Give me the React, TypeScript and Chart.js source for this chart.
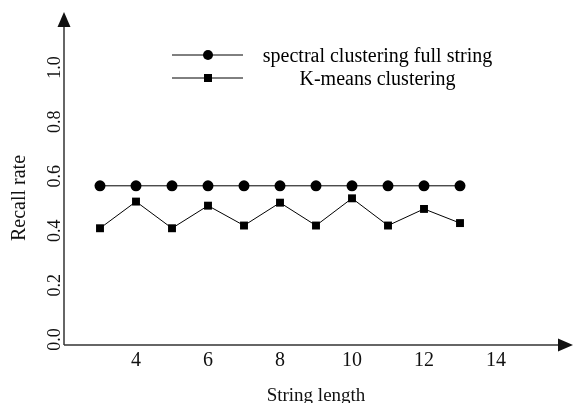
import React, { useEffect, useRef } from "react";
import { Chart, registerables } from "chart.js";

Chart.register(...registerables);

const xValues = [3, 4, 5, 6, 7, 8, 9, 10, 11, 12, 13];
const spectralValues = [0.565, 0.565, 0.565, 0.565, 0.565, 0.565, 0.565, 0.565, 0.565, 0.565, 0.565];
const kmeansValues = [0.409, 0.507, 0.409, 0.492, 0.419, 0.503, 0.419, 0.519, 0.419, 0.48, 0.428];
const xTicks = [4, 6, 8, 10, 12, 14];
const yTicks = [0, 0.2, 0.4, 0.6, 0.8, 1.0];
const seriesNames = ["spectral clustering full string", "K-means clustering"];
const xTitle = "String length";
const yTitle = "Recall rate";

const SERIF = "'Liberation Serif', 'Times New Roman', serif";

const decorPlugin = {
  id: "decor",
  beforeDatasetsDraw(chart: any) {
    const { ctx, chartArea } = chart;
    const left = chartArea.left;
    const bottom = chartArea.bottom;
    ctx.save();
    ctx.strokeStyle = "#333";
    ctx.fillStyle = "#111";
    ctx.lineWidth = 1.5;
    // x axis line + arrow
    ctx.beginPath();
    ctx.moveTo(left, bottom);
    ctx.lineTo(560, bottom);
    ctx.stroke();
    ctx.beginPath();
    ctx.moveTo(573, bottom);
    ctx.lineTo(558, bottom - 6.5);
    ctx.lineTo(558, bottom + 6.5);
    ctx.closePath();
    ctx.fill();
    // y axis line + arrow
    ctx.beginPath();
    ctx.moveTo(left, bottom);
    ctx.lineTo(left, 25);
    ctx.stroke();
    ctx.beginPath();
    ctx.moveTo(left, 12);
    ctx.lineTo(left - 6.5, 27);
    ctx.lineTo(left + 6.5, 27);
    ctx.closePath();
    ctx.fill();
    ctx.restore();
  },
  afterDraw(chart: any) {
    const { ctx } = chart;
    const yScale = chart.scales.y;
    ctx.save();
    // y tick labels (rotated)
    ctx.fillStyle = "#111";
    ctx.font = `18px ${SERIF}`;
    ctx.textAlign = "center";
    ctx.textBaseline = "alphabetic";
    yTicks.forEach((v) => {
      const py = yScale.getPixelForValue(v);
      ctx.save();
      ctx.translate(60, py);
      ctx.rotate(-Math.PI / 2);
      ctx.fillText(v.toFixed(1), 0, 0);
      ctx.restore();
    });
    // y title
    ctx.font = `20px ${SERIF}`;
    ctx.save();
    ctx.translate(25, 198);
    ctx.rotate(-Math.PI / 2);
    ctx.fillText(yTitle, 0, 0);
    ctx.restore();

    // legend
    const legendY = [55, 78];
    ctx.strokeStyle = "#000";
    ctx.fillStyle = "#000";
    ctx.lineWidth = 1;
    legendY.forEach((ly, i) => {
      ctx.beginPath();
      ctx.moveTo(172, ly);
      ctx.lineTo(243, ly);
      ctx.stroke();
      if (i === 0) {
        ctx.beginPath();
        ctx.arc(208, ly, 5, 0, Math.PI * 2);
        ctx.fill();
      } else {
        ctx.fillRect(204, ly - 4, 8, 8);
      }
      ctx.font = `20px ${SERIF}`;
      ctx.textAlign = "center";
      ctx.textBaseline = "alphabetic";
      ctx.fillText(seriesNames[i], 377.5, ly + 7);
    });
    ctx.restore();
  },
};

export default function App() {
  const canvasRef = useRef<HTMLCanvasElement | null>(null);

  useEffect(() => {
    const canvas = canvasRef.current;
    if (!canvas) return;
    const chart = new Chart(canvas, {
      type: "line",
      data: {
        datasets: [
          {
            label: seriesNames[0],
            data: xValues.map((x, i) => ({ x, y: spectralValues[i] })),
            borderColor: "#000",
            backgroundColor: "#000",
            borderWidth: 1,
            pointStyle: "circle",
            pointRadius: 5.5,
            pointBorderWidth: 0,
            tension: 0,
          },
          {
            label: seriesNames[1],
            data: xValues.map((x, i) => ({ x, y: kmeansValues[i] })),
            borderColor: "#000",
            backgroundColor: "#000",
            borderWidth: 1,
            pointStyle: "rect",
            pointRadius: 5.6,
            pointBorderWidth: 0,
            tension: 0,
          },
        ],
      },
      options: {
        animation: false,
        responsive: false,
        devicePixelRatio: 1,
        layout: { padding: { top: 13, right: 6, left: 0, bottom: 0 } },
        plugins: {
          legend: { display: false },
          tooltip: { enabled: false },
        },
        scales: {
          x: {
            type: "linear",
            min: 2,
            max: 16,
            grid: { display: false, drawTicks: false },
            border: { display: false },
            afterBuildTicks: (scale: any) => {
              scale.ticks = xTicks.map((v) => ({ value: v }));
            },
            afterFit: (scale: any) => {
              scale.height = 58;
            },
            ticks: {
              color: "#111",
              padding: 4,
              maxRotation: 0,
              minRotation: 0,
              font: { family: SERIF, size: 20 },
            },
            title: {
              display: true,
              text: xTitle,
              color: "#111",
              font: { family: SERIF, size: 19, lineHeight: 1 },
              padding: { top: 0, bottom: -3 },
            },
          },
          y: {
            type: "linear",
            min: -0.02,
            max: 1.2,
            grid: { display: false, drawTicks: false },
            border: { display: false },
            ticks: { display: false },
            afterFit: (scale: any) => {
              scale.width = 64;
            },
          },
        },
      },
      plugins: [decorPlugin],
    });
    return () => chart.destroy();
  }, []);

  return (
    <div style={{ position: "absolute", left: 0, top: 0, width: 574, height: 403, background: "#fff" }}>
      <canvas ref={canvasRef} width={574} height={403} style={{ display: "block" }} />
    </div>
  );
}
